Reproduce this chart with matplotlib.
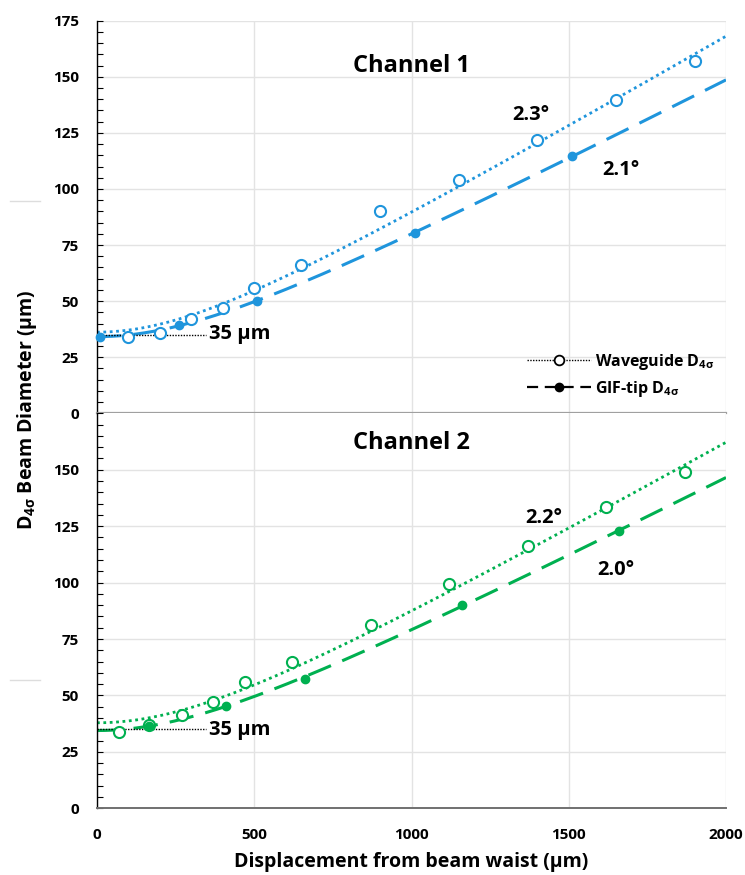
import numpy as np
import matplotlib
matplotlib.use("Agg")
import matplotlib.pyplot as plt
from matplotlib.lines import Line2D
from matplotlib.ticker import MultipleLocator

plt.rcParams['font.family'] = ['Open Sans', 'DejaVu Sans']
plt.rcParams['font.weight'] = 'bold'
plt.rcParams['mathtext.default'] = 'regular'

# ---- data ----
ch1_wg_x = [100, 200, 300, 400, 500, 650, 900, 1150, 1400, 1650, 1900]
ch1_wg_y = [34, 36, 42, 47, 56, 66, 90, 104, 122, 139.5, 157]
ch1_gif_x = [10, 260, 510, 1010, 1510]
ch1_gif_y = [34, 39.5, 50, 80.5, 114.5]

ch2_wg_x = [70, 165, 270, 370, 470, 620, 870, 1120, 1370, 1620, 1870]
ch2_wg_y = [34, 37, 41.5, 47, 56, 65, 81, 99.5, 116, 133.5, 149]
ch2_gif_x = [165, 410, 660, 1160, 1660]
ch2_gif_y = [36.5, 45.5, 57.5, 90, 123]

waist_um = 35
x_ticks = [0, 500, 1000, 1500, 2000]

BLUE = '#1f95dc'
GREEN = '#00b050'
FW = 'bold'

W, H = 745, 875
fig = plt.figure(figsize=(W/100, H/100), dpi=100)

def fx(px):
    return px / W

def fy(py):
    return 1 - py / H

ax1 = fig.add_axes([fx(97), fy(413.3), fx(726) - fx(97), fy(20.7) - fy(413.3)])
ax2 = fig.add_axes([fx(97), fy(808.3), fx(726) - fx(97), fy(413.3) - fy(808.3)])

def hyper_fit(x, y):
    x = np.asarray(x, float)
    y = np.asarray(y, float)
    b, a = np.polyfit(x**2, y**2, 1, w=1.0 / np.sqrt(y))
    return a, b

zz = np.linspace(0, 2000, 400)

def setup(ax, show_x):
    ax.set_xlim(0, 2000)
    ax.set_ylim(0, 175)
    ax.set_xticks(x_ticks)
    ax.yaxis.set_major_locator(MultipleLocator(25))
    ax.yaxis.set_minor_locator(MultipleLocator(5))
    ax.grid(True, which='major', color='#e3e3e3', lw=1.0)
    ax.set_axisbelow(True)
    for s in ['top', 'right']:
        ax.spines[s].set_visible(False)
    ax.spines['left'].set_color('black')
    ax.spines['left'].set_linewidth(1.0)
    ax.tick_params(axis='y', which='both', direction='in', length=4, width=0.8,
                   labelsize=11, pad=13)
    ax.tick_params(axis='x', length=0, labelsize=11, pad=14)
    if not show_x:
        ax.tick_params(axis='x', labelbottom=False)

setup(ax1, False)
setup(ax2, True)
ax1.spines['bottom'].set_color('#a0a0a0')
ax1.spines['bottom'].set_linewidth(1.6)
ax2.spines['bottom'].set_color('#707070')
ax2.spines['bottom'].set_linewidth(1.4)
ax2.set_yticks([0, 25, 50, 75, 100, 125, 150])
ax2.set_ylim(0, 175)
for ax in (ax1, ax2):
    for lab in ax.get_yticklabels() + ax.get_xticklabels():
        lab.set_fontweight(FW)

def draw_channel(ax, color, wx, wy, gx, gy):
    a, b = hyper_fit(wx, wy)
    ax.plot(zz, np.sqrt(a + b * zz**2), color=color, ls=(0, (1, 1.3)), lw=2.0)
    a2, b2 = hyper_fit(gx, gy)
    ax.plot(zz, np.sqrt(a2 + b2 * zz**2), color=color, ls=(0, (8, 4)), lw=2.2)
    ax.plot(wx, wy, 'o', mfc='white', mec=color, mew=1.5, ms=8, zorder=5)
    ax.plot(gx, gy, 'o', color=color, ms=6, zorder=6, clip_on=False)
    ax.plot([0, 345], [waist_um, waist_um], color='black', ls=(0, (1, 1)), lw=1.0, zorder=4)

draw_channel(ax1, BLUE, ch1_wg_x, ch1_wg_y, ch1_gif_x, ch1_gif_y)
draw_channel(ax2, GREEN, ch2_wg_x, ch2_wg_y, ch2_gif_x, ch2_gif_y)

# Annotations
ax1.text(1000, 155, 'Channel 1', ha='center', va='center', fontsize=17, fontweight=FW)
ax2.text(1000, 162, 'Channel 2', ha='center', va='center', fontsize=17, fontweight=FW)
ax1.text(355, 35.5, '35 µm', ha='left', va='center', fontsize=14.5, fontweight=FW)
ax2.text(355, 34.5, '35 µm', ha='left', va='center', fontsize=14.5, fontweight=FW)
ax1.text(1380, 133, '2.3°', ha='center', va='center', fontsize=14.5, fontweight=FW)
ax1.text(1665, 108.5, '2.1°', ha='center', va='center', fontsize=14.5, fontweight=FW)
ax2.text(1420, 128.5, '2.2°', ha='center', va='center', fontsize=14.5, fontweight=FW)
ax2.text(1650, 105.5, '2.0°', ha='center', va='center', fontsize=14.5, fontweight=FW)

# Legend
h1 = Line2D([], [], color='black', ls=(0, (1, 1)), lw=1.0, marker='o', mfc='white',
            mec='black', mew=1.3, ms=7)
h2 = Line2D([], [], color='black', ls=(0, (5, 3)), lw=1.6, marker='o', ms=6)
leg = ax1.legend([h1, h2], ['Waveguide D$_{4\\sigma}$', 'GIF-tip D$_{4\\sigma}$'],
                 loc='lower right', bbox_to_anchor=(1.005, 0.0), frameon=False,
                 prop={'weight': FW, 'size': 11.5}, handlelength=4.0,
                 handletextpad=0.3, labelspacing=0.45)

fig.text(fx(27), fy(410), 'D$_{4\\sigma}$ Beam Diameter (µm)', rotation=90,
         ha='center', va='center', fontsize=14, fontweight=FW)
fig.text(fx(411), fy(862), 'Displacement from beam waist (µm)', ha='center',
         va='center', fontsize=14, fontweight=FW)

# faint marks at the left margin
for py in (201, 680):
    fig.add_artist(Line2D([fx(10), fx(40)], [fy(py), fy(py)], color='#dddddd', lw=1.0))

fig.savefig('out.png', dpi=100)
